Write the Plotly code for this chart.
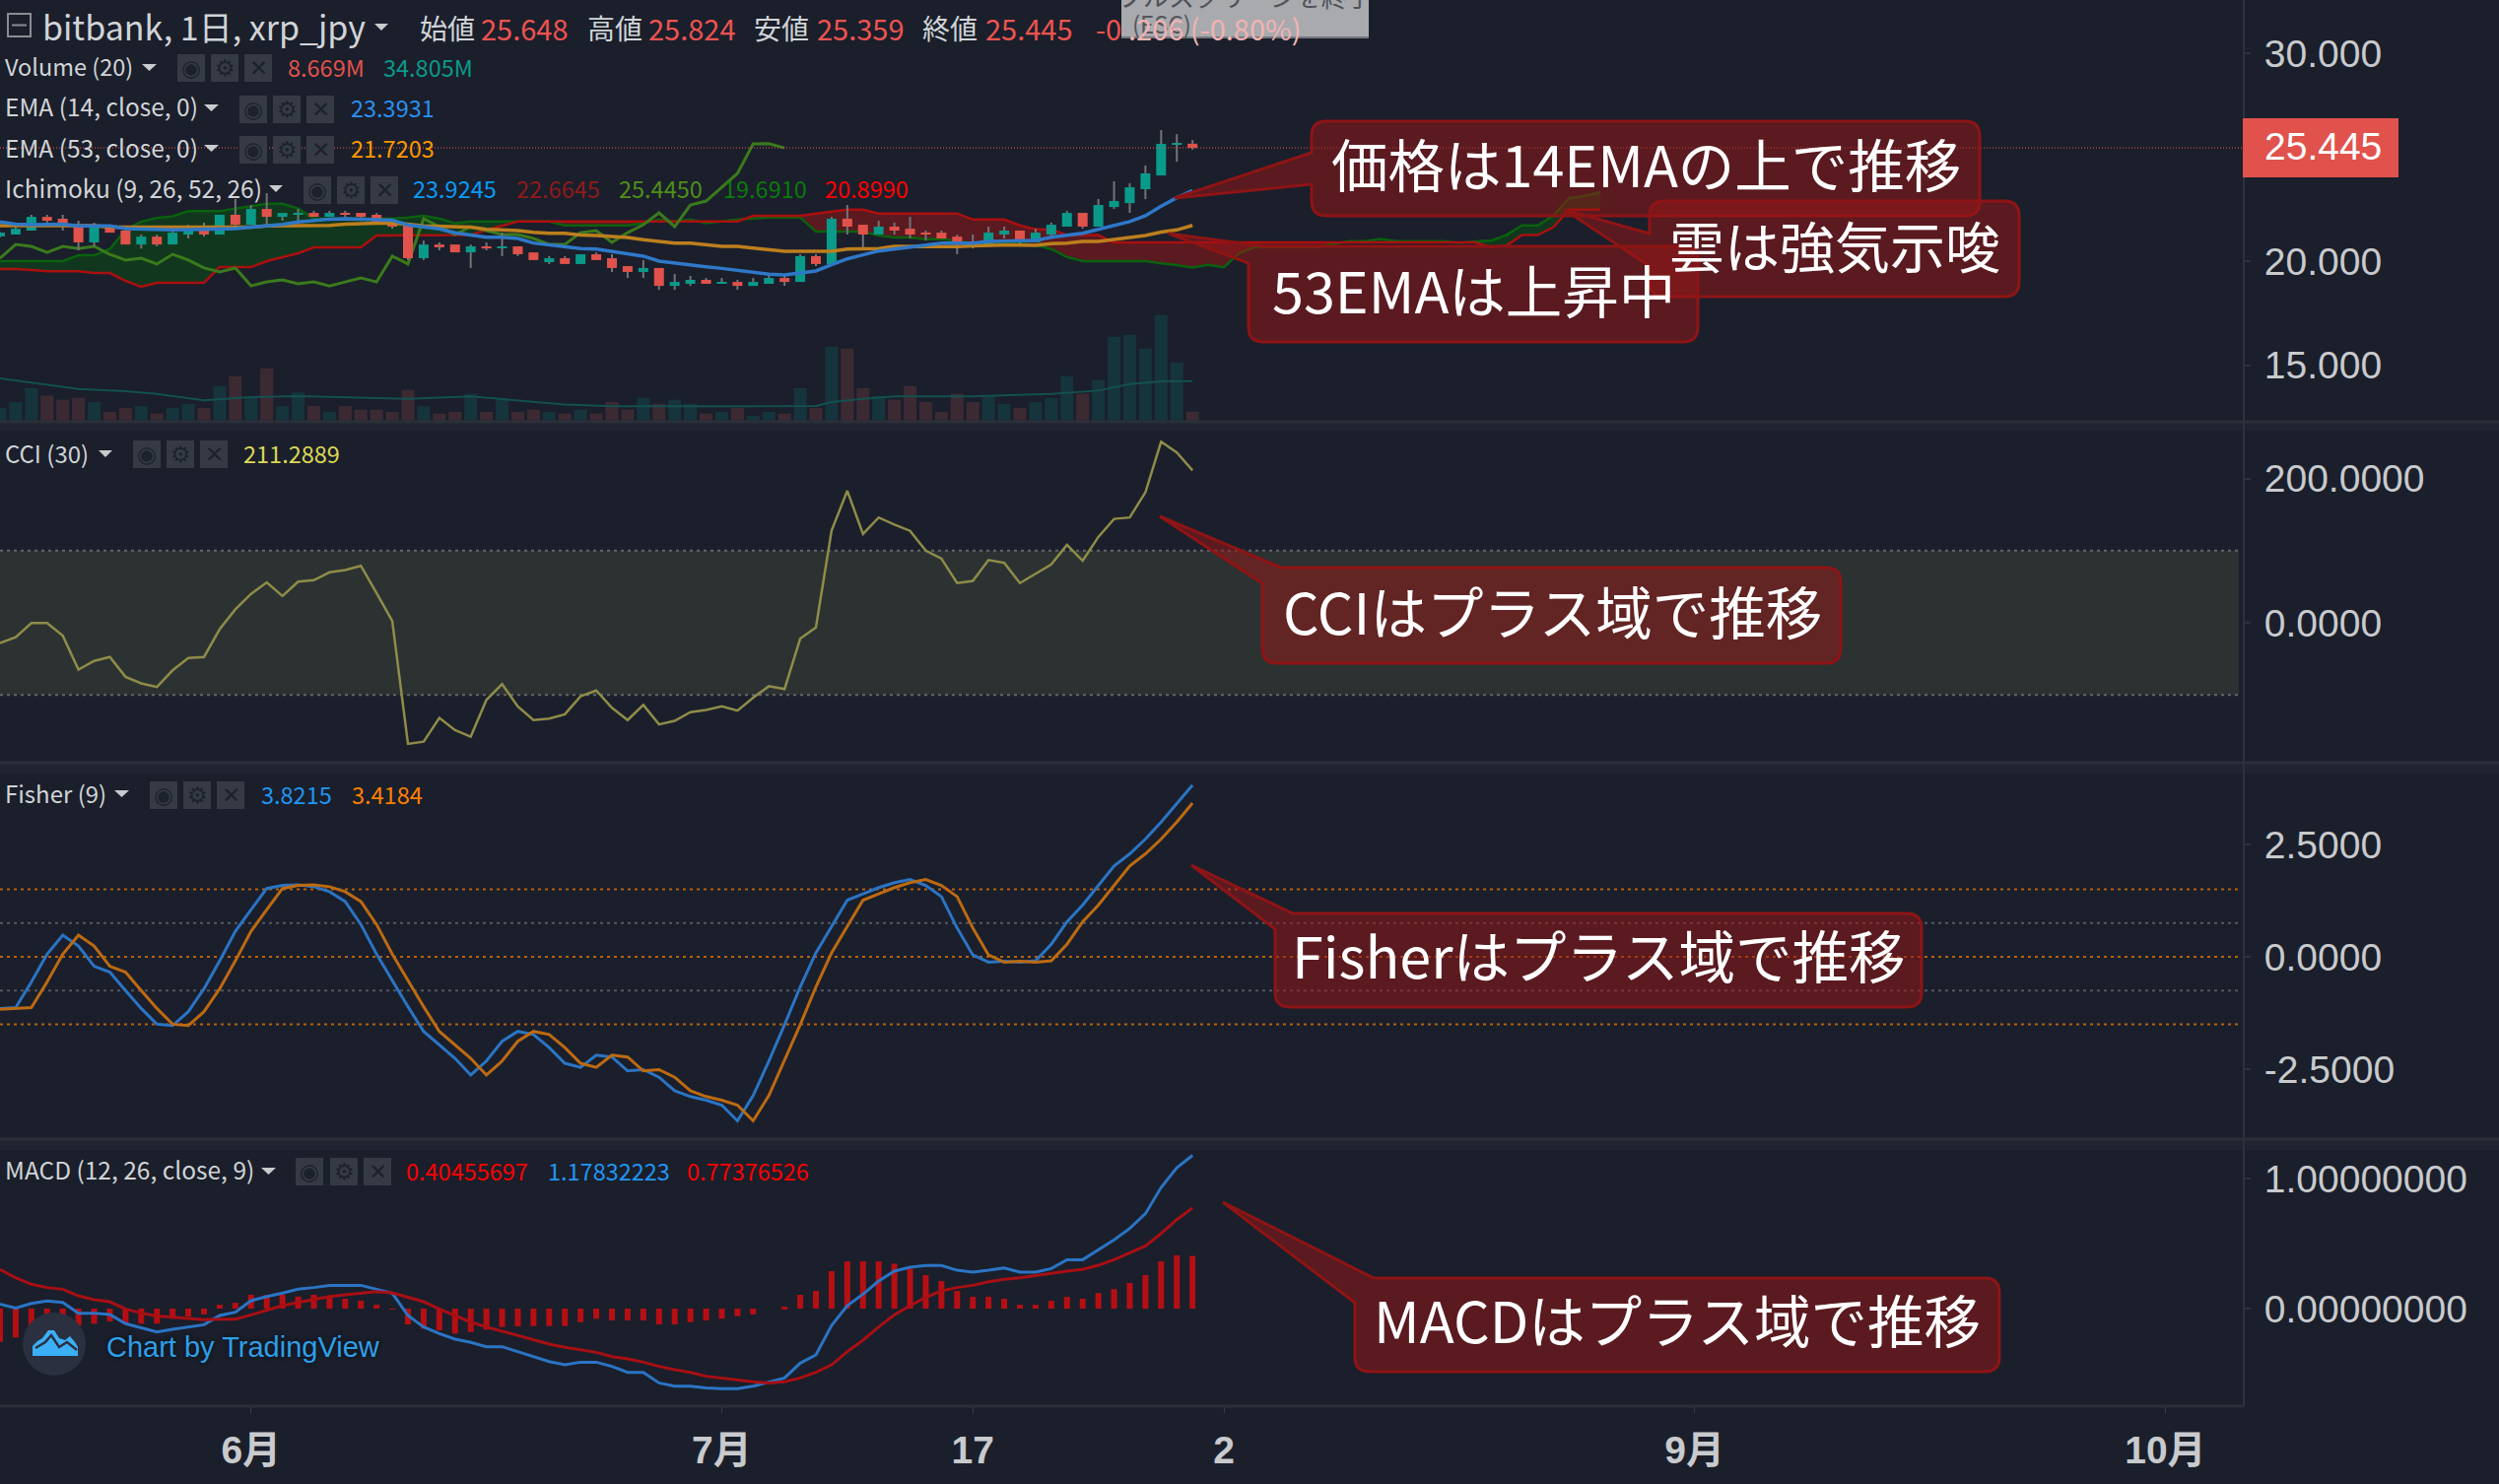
import pandas as pd
import plotly.graph_objects as go

# ---------- data ----------
start_date = "2020-05-16"
view_end = "2020-10-06"
tick_dates = ["2020-06-01", "2020-07-01", "2020-07-17", "2020-08-02", "2020-09-01", "2020-10-01"]
tick_labels = ["6月", "7月", "17", "2", "9月", "10月"]

open_ = [21.19,21.28,21.47,22.13,22.04,21.75,20.90,21.66,21.47,20.80,21.18,20.80,21.28,21.56,21.28,22.23,21.75,22.51,22.13,22.24,
         22.32,22.13,22.32,22.32,22.23,21.85,21.75,20.14,20.80,20.80,20.42,20.71,20.63,20.71,20.42,19.95,20.14,19.86,20.33,20.14,
         19.76,19.48,19.67,18.81,18.91,19.10,18.91,19.00,18.81,18.91,19.19,19.00,20.24,19.86,22.04,21.75,21.28,21.66,21.56,21.37,
         21.37,21.18,20.90,20.80,21.28,21.47,20.90,21.28,21.66,22.32,21.66,22.60,22.79,23.46,24.12,25.60,25.648]
high = [21.40,21.82,22.23,22.23,22.23,21.94,21.85,21.66,21.47,21.28,21.28,21.56,21.75,21.85,22.23,22.99,22.70,23.27,22.32,22.51,
        22.42,22.42,22.42,22.32,22.32,22.04,21.85,20.99,20.90,20.80,20.80,20.90,21.37,20.71,20.42,20.24,20.24,20.33,20.42,20.33,
        19.76,20.05,19.67,19.38,19.29,19.19,19.19,19.10,19.19,19.38,19.29,20.33,20.33,22.13,22.70,21.75,21.94,21.85,22.13,21.47,
        21.47,21.28,21.28,21.66,21.66,21.47,21.56,21.85,22.42,22.32,22.99,23.84,23.74,24.60,26.30,26.11,25.824]
low = [21.15,21.28,21.47,21.69,21.47,20.52,20.71,21.37,20.80,20.60,20.71,20.80,21.09,21.18,21.28,21.66,21.75,21.75,21.94,21.94,
       22.13,22.13,21.94,21.94,21.75,21.56,20.05,20.05,20.52,20.42,19.67,20.52,20.24,20.24,20.05,19.86,19.86,19.86,20.05,19.48,
       19.19,19.19,18.62,18.62,18.81,18.91,18.91,18.62,18.81,18.91,18.81,19.00,19.76,19.86,21.28,20.61,21.28,21.28,21.09,20.99,
       21.09,20.33,20.61,20.80,21.09,20.80,20.90,21.09,21.66,21.56,21.66,22.51,22.32,22.98,24.12,24.78,25.359]
close = [21.37,21.56,22.13,21.94,21.66,20.90,21.66,21.37,20.80,21.18,20.80,21.37,21.56,21.28,22.23,21.75,22.51,22.13,22.32,22.32,
         22.13,22.32,22.23,22.13,21.75,21.66,20.14,20.80,20.71,20.42,20.71,20.61,20.71,20.33,20.05,20.14,19.86,20.33,20.05,19.67,
         19.48,19.67,18.81,19.00,19.10,18.91,19.00,18.81,19.00,19.19,19.00,20.24,19.86,22.04,21.66,21.28,21.66,21.47,21.28,21.28,
         21.09,20.80,20.80,21.37,21.47,20.90,21.37,21.75,22.32,21.66,22.70,22.89,23.55,24.22,25.64,25.648,25.445]
volume_m = [11.8,16.8,28.6,22.4,18.8,20.4,16.8,8.4,11.8,13.4,7.0,11.8,15.4,11.8,30.5,38.9,20.4,45.7,13.4,25.2,
            13.4,8.4,13.4,10.4,10.4,8.4,27.2,13.4,7.0,8.4,23.8,8.4,20.4,8.4,10.4,8.4,7.0,10.4,7.0,16.8,
            10.4,20.4,15.4,18.8,15.4,7.0,8.4,11.8,5.0,8.4,7.0,28.6,11.8,64.1,62.5,28.6,22.1,18.8,30.5,16.8,
            8.4,23.8,16.8,22.1,15.4,11.8,16.8,20.4,38.9,23.8,35.6,72.5,74.2,62.5,91.0,50.7,8.669]
volume_ma_days = [0,3,5,8,10,13,16,19,22,26,30,34,36,39,44,49,52,53,55,57,62,67,70,72,74,76]
volume_ma = [37,31.7,28,26,23.8,18.2,21,21.8,21,19.6,21.6,16.8,14.8,13.2,13.2,13.2,13.4,16.8,19.6,21.6,21.6,23.8,26.6,32.2,34.5,34.8]
ema14 = [21.89,21.78,21.75,21.78,21.78,21.69,21.69,21.69,21.56,21.53,21.50,21.50,21.52,21.53,21.56,21.56,21.64,21.70,21.77,21.88,
         21.97,22.02,22.04,22.02,22.00,21.97,21.74,21.63,21.55,21.36,21.26,21.15,21.15,21.09,20.87,20.77,20.68,20.60,20.58,20.47,
         20.32,20.24,20.00,19.90,19.83,19.73,19.65,19.57,19.48,19.37,19.34,19.42,19.53,19.83,20.11,20.30,20.49,20.58,20.68,20.77,
         20.87,20.87,20.87,20.95,20.95,20.95,20.99,21.15,21.25,21.34,21.53,21.72,21.90,22.18,22.64,23.05,23.39]
ema53 = [21.71,21.71,21.71,21.71,21.71,21.71,21.71,21.63,21.63,21.63,21.63,21.63,21.63,21.63,21.63,21.63,21.63,21.69,21.69,21.69,
         21.69,21.72,21.78,21.82,21.82,21.82,21.78,21.69,21.66,21.63,21.63,21.53,21.50,21.47,21.39,21.34,21.34,21.26,21.23,21.18,
         21.14,21.03,20.95,20.87,20.87,20.79,20.71,20.71,20.63,20.55,20.47,20.47,20.47,20.47,20.58,20.58,20.61,20.71,20.71,20.68,
         20.68,20.70,20.74,20.77,20.77,20.77,20.76,20.84,20.87,20.95,20.95,21.04,21.14,21.23,21.40,21.50,21.72]
lagging_span = [20.14,20.80,20.71,20.42,20.71,20.61,20.71,20.33,20.05,20.14,19.86,20.33,20.05,19.67,19.48,19.67,18.81,19.00,19.10,18.91,
                19.00,18.81,19.00,19.19,19.00,20.24,19.86,22.04,21.66,21.28,21.66,21.47,21.28,21.28,21.09,20.80,20.80,21.37,21.47,20.90,
                21.37,21.75,22.32,21.66,22.70,22.89,23.55,24.22,25.64,25.648,25.445]
span_a = [20.0,20.0,20.0,20.0,20.0,20.28,20.28,20.58,21.5,21.90,22.08,22.16,22.40,22.40,22.40,22.53,22.64,22.76,22.76,22.53,
          22.05,22.05,22.05,22.05,22.05,22.05,22.10,22.18,22.05,21.82,21.91,21.91,21.91,21.91,21.91,21.91,21.72,21.72,21.72,21.72,
          21.72,21.82,22.0,21.91,22.0,21.82,21.91,22.0,22.05,22.10,22.10,22.10,21.42,21.42,21.42,21.42,21.23,21.14,21.14,21.06,
          21.06,20.96,20.87,20.87,20.87,20.87,20.77,20.58,20.2,20.0,20.0,20.0,20.0,20.0,19.89,19.81,19.69,19.82,19.71,20.39,
          20.68,20.68,20.68,20.68,20.68,20.82,20.96,20.96,21.06,20.96,20.96,20.96,20.96,20.88,20.95,20.98,21.25,21.72,21.72,22.19,
          23.03,23.14,23.31]
span_b = [19.62,19.62,19.57,19.51,19.51,19.51,19.43,19.43,19.05,18.77,18.96,18.96,18.96,18.96,19.71,19.71,19.71,20.0,20.19,20.38,
          20.66,20.66,20.66,20.66,21.23,21.23,21.23,21.23,21.23,21.23,21.26,21.5,21.69,21.91,21.91,21.91,21.91,21.91,21.91,21.91,
          21.91,21.91,21.91,21.91,21.91,21.91,21.91,21.91,22.18,22.18,22.18,22.18,22.29,22.39,22.48,22.48,22.29,22.29,22.29,22.29,
          22.29,22.29,22.0,22.0,22.0,21.72,21.53,21.53,21.25,21.25,21.25,20.9,20.9,20.9,20.9,20.9,20.9,20.9,20.9,20.9,
          20.9,20.9,20.9,20.9,20.9,20.9,20.9,20.9,20.9,20.9,20.9,20.9,20.9,20.9,20.9,20.68,20.74,21.25,21.25,21.63,
          22.48,22.48,22.48]
cci = [-28,-20,-0.5,-0.5,-18,-65,-53,-47.5,-75,-84,-89,-66,-49,-47.5,-9,18.6,40,56,37,57,
       59,70,73,79,41,2.6,-168,-165,-132,-149,-158,-107,-85,-116,-135,-133,-127,-102,-94,-118,
       -135,-114,-141,-136,-124,-121,-116,-122,-104,-88,-92,-22,-6.5,128,183,123,146,136,127.5,100,
       89,55,58,87,83,55,68,81,108,86,119,144,146,181,251,236,211.29]
fisher = [-1.15,-1.13,-0.56,0.06,0.48,0.24,-0.21,-0.34,-0.75,-1.15,-1.50,-1.53,-1.22,-0.71,-0.09,0.57,1.05,1.52,1.59,1.60,
          1.56,1.45,1.23,0.72,0.06,-0.53,-1.11,-1.66,-1.95,-2.26,-2.63,-2.32,-1.88,-1.66,-1.73,-2.02,-2.37,-2.46,-2.19,-2.23,
          -2.54,-2.51,-2.68,-2.98,-3.11,-3.19,-3.30,-3.65,-3.09,-2.32,-1.51,-0.67,0.09,0.68,1.26,1.40,1.54,1.65,1.72,1.59,
          1.34,0.64,0.04,-0.12,-0.10,-0.12,-0.09,0.28,0.78,1.15,1.59,2.02,2.29,2.62,3.00,3.42,3.82]
fisher_trigger = [-1.17,-1.15,-1.13,-0.56,0.06,0.48,0.24,-0.21,-0.34,-0.75,-1.15,-1.50,-1.53,-1.22,-0.71,-0.09,0.57,1.05,1.52,1.59,
                  1.60,1.56,1.45,1.23,0.72,0.06,-0.53,-1.11,-1.66,-1.95,-2.26,-2.63,-2.32,-1.88,-1.66,-1.73,-2.02,-2.37,-2.46,-2.19,
                  -2.23,-2.54,-2.51,-2.68,-2.98,-3.11,-3.19,-3.30,-3.65,-3.09,-2.32,-1.51,-0.67,0.09,0.68,1.26,1.40,1.54,1.65,1.72,
                  1.59,1.34,0.64,0.04,-0.12,-0.10,-0.12,-0.09,0.28,0.78,1.15,1.59,2.02,2.29,2.62,3.00,3.42]
macd = [.035,.005,.04,.058,.048,-.035,-.035,-.045,-.116,-.146,-.179,-.159,-.141,-.124,-.053,-.028,.061,.093,.119,.149,
        .162,.179,.179,.179,.149,.119,-.053,-.141,-.192,-.235,-.26,-.293,-.293,-.331,-.369,-.407,-.432,-.412,-.412,-.444,
        -.49,-.49,-.571,-.596,-.596,-.609,-.616,-.616,-.596,-.563,-.533,-.419,-.356,-.129,.023,.111,.212,.288,.318,.331,
        .331,.295,.28,.295,.313,.28,.28,.308,.376,.376,.452,.528,.616,.73,.932,1.083,1.178]
macd_signal = [.301,.237,.187,.162,.149,.098,.068,.053,-.003,-.035,-.056,-.066,-.081,-.086,-.081,-.081,-.048,-.01,.023,.048,
               .073,.093,.106,.119,.131,.121,.086,.053,-.003,-.053,-.104,-.141,-.174,-.212,-.242,-.273,-.298,-.318,-.336,-.369,
               -.386,-.412,-.444,-.47,-.49,-.52,-.533,-.551,-.563,-.571,-.563,-.533,-.49,-.432,-.331,-.242,-.141,-.048,.023,.086,
               .136,.162,.179,.207,.225,.237,.255,.27,.288,.301,.333,.376,.427,.482,.578,.684,.774]
macd_hist = [-.255,-.222,-.167,-.104,-.078,-.131,-.116,-.098,-.116,-.116,-.116,-.078,-.061,-.045,.03,.045,.106,.106,.106,.093,
             .106,.086,.076,.061,.03,-.005,-.121,-.154,-.167,-.192,-.179,-.162,-.141,-.136,-.134,-.134,-.134,-.104,-.078,-.091,
             -.091,-.091,-.121,-.121,-.104,-.091,-.078,-.058,-.045,0,.015,.106,.136,.288,.364,.364,.364,.346,.308,.258,
             .212,.136,.091,.091,.076,.03,.03,.06,.09,.076,.12,.15,.197,.258,.364,.41,.405]

last_price = 25.445

# axis tick values and their labels (the chart writes negatives with a plain hyphen)
price_ticks = [15, 20, 30]
price_tick_labels = ["15.000", "20.000", "30.000"]
cci_ticks = [0, 200]
cci_tick_labels = ["0.0000", "200.0000"]
fisher_ticks = [-2.5, 0, 2.5]
fisher_tick_labels = ["-2.5000", "0.0000", "2.5000"]
macd_ticks = [0, 1]
macd_tick_labels = ["0.00000000", "1.00000000"]

# ---------- layout constants ----------
W, H = 2536, 1506
PX_R, PX_B = 2277, 1427
BG = "#1a1f2b"
SANS = "Noto Sans CJK JP, Noto Sans, sans-serif"
AXF = "Liberation Sans, Noto Sans CJK JP, sans-serif"
day_ms = 86400000

def fx(x):
    return x / PX_R

def fy(y):
    return 1 - y / PX_B

dates = pd.date_range(start_date, periods=110, freq="D")
x = list(dates[:len(close)])
x_cloud = list(dates[:len(span_a)])
x_lag = list(dates[:len(lagging_span)])
x_vma = [dates[i] for i in volume_ma_days]

UP, DOWN = "#0a9a8a", "#e0524b"
body_color = [UP if c >= o else DOWN for o, c in zip(open_, close)]
vol_color = ["#16343c" if c >= o else "#3c2a33" for o, c in zip(open_, close)]
body_base = [min(o, c) for o, c in zip(open_, close)]
body_size = [abs(c - o) for o, c in zip(open_, close)]

wx, wy = [], []
for d, o, h, l, c in zip(x, open_, high, low, close):
    wx += [d, d, None, d, d, None]
    wy += [h, max(o, c), None, min(o, c), l, None]

fig = go.Figure()

def line(xs, ys, color, width, axis):
    fig.add_trace(go.Scatter(x=xs, y=ys, mode="lines", yaxis=axis,
                             line=dict(color=color, width=width), hoverinfo="skip"))

# volume
fig.add_trace(go.Bar(x=x, y=volume_m, yaxis="y5", marker=dict(color=vol_color, line_width=0),
                     width=13 / 15.92 * day_ms, hoverinfo="skip"))
line(x_vma, volume_ma, "#14504f", 2, "y5")

# ichimoku cloud
upper = [max(a, b) for a, b in zip(span_a, span_b)]
fig.add_trace(go.Scatter(x=x_cloud, y=span_b, mode="lines", line=dict(width=0), hoverinfo="skip"))
fig.add_trace(go.Scatter(x=x_cloud, y=upper, mode="lines", line=dict(width=0), fill="tonexty",
                         fillcolor="rgba(0,112,4,0.31)", hoverinfo="skip"))
fig.add_trace(go.Scatter(x=x_cloud, y=span_a, mode="lines", line=dict(width=0), hoverinfo="skip"))
fig.add_trace(go.Scatter(x=x_cloud, y=upper, mode="lines", line=dict(width=0), fill="tonexty",
                         fillcolor="rgba(154,21,21,0.50)", hoverinfo="skip"))
line(x_cloud, span_a, "#0b610f", 2.5, "y")
line(x_cloud, span_b, "#ab0f10", 2.5, "y")
line(x_lag, lagging_span, "#3b7a1c", 3, "y")

# candles + EMAs on an overlay so they stay above the cloud
fig.add_trace(go.Bar(x=x, y=body_size, base=body_base, yaxis="y6",
                     marker=dict(color=body_color, line_width=0),
                     width=10 / 15.92 * day_ms, hoverinfo="skip"))
fig.add_trace(go.Scatter(x=wx, y=wy, mode="lines", yaxis="y6",
                         line=dict(color="#737478", width=2), hoverinfo="skip"))
line(x, ema53, "#bd7f1e", 3.5, "y6")
line(x, ema14, "#2f78c8", 3.5, "y6")

# CCI
line(x, cci, "#8f8c49", 2.5, "y2")
# Fisher
line(x, fisher, "#2b74c4", 3, "y3")
line(x, fisher_trigger, "#bd6a12", 3, "y3")
# MACD
fig.add_trace(go.Bar(x=x, y=macd_hist, yaxis="y4", marker=dict(color="#b50f14", line_width=0),
                     width=6 / 15.92 * day_ms, hoverinfo="skip"))
line(x, macd, "#2b74c4", 3, "y4")
line(x, macd_signal, "#a80f14", 3, "y4")

# ---------- shapes and text ----------
shapes, notes = [], []

def rect(x0, y0, x1, y1, fill, border=None, bw=0, layer="above"):
    shapes.append(dict(type="rect", xref="paper", yref="paper", x0=fx(x0), x1=fx(x1), y0=fy(y0), y1=fy(y1),
                       fillcolor=fill, line=dict(color=border or fill, width=bw), layer=layer))

def hline_px(y, color, width, x1=W):
    shapes.append(dict(type="line", xref="paper", yref="paper", x0=0, x1=fx(x1), y0=fy(y), y1=fy(y),
                       line=dict(color=color, width=width), layer="above"))

def level(y, yref, color, dash="3px,4px", width=2):
    shapes.append(dict(type="line", xref="paper", yref=yref, x0=0, x1=fx(2272), y0=y, y1=y,
                       line=dict(color=color, width=width, dash=dash), layer="below"))

def text(s, px, py, size, color, anchor="left", family=SANS, weight=None, shadow=None):
    font = dict(family=family, size=size, color=color)
    if weight:
        font["weight"] = weight
    if shadow:
        font["shadow"] = shadow
    notes.append(dict(text=s, x=fx(px), y=fy(py), xref="paper", yref="paper", showarrow=False,
                      xanchor=anchor, yanchor="middle", font=font, borderpad=0, borderwidth=0))

def caret(x0, x1, y0, y1, color="#c9cbcf"):
    path = f"M {fx(x0)} {fy(y0)} L {fx(x1)} {fy(y0)} L {fx((x0 + x1) / 2)} {fy(y1)} Z"
    shapes.append(dict(type="path", xref="paper", yref="paper", path=path, fillcolor=color, line_width=0))

def icons(xs, y0, y1):
    for xl, ch in zip(xs, ["◉", "⚙", "✕"]):
        rect(xl, y0, xl + 28, y1, "#363a45")
        text(ch, xl + 14, (y0 + y1) / 2, 23, "#1c212c", "center", "DejaVu Sans")

def callout(x0, y0, x1, y1, tip, pre, post, r=15):
    """Rounded box; the tail leaves the outline at `pre`, reaches `tip`, returns at `post`."""
    P = lambda a, b: f"{fx(a)} {fy(b)}"
    d = f"M {P(x0 + r, y0)} "
    if pre[1] == y0 and post[1] != y0:
        d = f"M {P(pre[0], y0)} L {P(x1 - r, y0)} Q {P(x1, y0)} {P(x1, y0 + r)} L {P(x1, y1 - r)} Q {P(x1, y1)} {P(x1 - r, y1)} "
        d += f"L {P(x0 + r, y1)} Q {P(x0, y1)} {P(x0, y1 - r)} L {P(post[0], post[1])} L {P(tip[0], tip[1])} Z"
    else:
        d += f"L {P(x1 - r, y0)} Q {P(x1, y0)} {P(x1, y0 + r)} L {P(x1, y1 - r)} Q {P(x1, y1)} {P(x1 - r, y1)} "
        d += f"L {P(x0 + r, y1)} Q {P(x0, y1)} {P(x0, y1 - r)} L {P(post[0], post[1])} L {P(tip[0], tip[1])} L {P(pre[0], pre[1])} "
        d += f"L {P(x0, y0 + r)} Q {P(x0, y0)} {P(x0 + r, y0)} Z"
    shapes.append(dict(type="path", xref="paper", yref="paper", path=d, fillcolor="rgba(154,21,21,0.50)",
                       line=dict(color="#8e1415", width=3), layer="above"))

# pane separators
for y0, y1 in [(429, 437), (775, 785), (1157, 1167)]:
    rect(0, y0, W, y1, "#1f2430", layer="below")
for y in (428, 774, 1156):
    hline_px(y, "#2b2f3a", 3)
hline_px(1427, "#2b2f3a", 3, PX_R)
shapes.append(dict(type="line", xref="paper", yref="paper", x0=1, x1=1, y0=fy(0), y1=0,
                   line=dict(color="#2d313d", width=2), layer="above"))

# price line and price tag
shapes.append(dict(type="line", xref="paper", yref="y", x0=0, x1=fx(2284), y0=last_price, y1=last_price,
                   line=dict(color="rgba(224,82,75,0.55)", width=2, dash="1px,2px"), layer="above"))
rect(2276, 120, 2434, 180, "#e0524b")
text("25.445", 2298, 148, 39, "#ffffff", family=AXF)

# indicator bands
shapes.append(dict(type="rect", xref="paper", yref="y2", x0=0, x1=fx(2272), y0=-100, y1=100,
                   fillcolor="#2c3232", line_width=0, layer="below"))
level(100, "y2", "#63666b")
level(-100, "y2", "#63666b")
for v in (1.5, 0, -1.5):
    level(v, "y3", "#b5610f")
for v in (0.75, -0.75):
    level(v, "y3", "#55585f")

# top tooltip
rect(1138, -4, 1389, 39, "#a8aaae")
rect(1138, 37, 1389, 39, "#75787e")
text("フルスクリーンを終了", 1263, -4, 26, "#4f5156", "center")
text("(ESC)", 1149, 23, 24, "#54565b")

# header
shapes.append(dict(type="rect", xref="paper", yref="paper", x0=fx(8), x1=fx(31), y0=fy(14), y1=fy(37),
                   fillcolor="rgba(0,0,0,0)", line=dict(color="#8a8d92", width=2)))
shapes.append(dict(type="line", xref="paper", yref="paper", x0=fx(12), x1=fx(27), y0=fy(25.5), y1=fy(25.5),
                   line=dict(color="#8a8d92", width=2)))
text("bitbank, 1日, xrp_jpy", 43, 27, 34, "#d1d4d7")
caret(380, 394, 24, 31)
RED = "#ef5350"
for s, a, v, b in [("始値", 426, "25.648", 488), ("高値", 596, "25.824", 658),
                   ("安値", 765, "25.359", 829), ("終値", 936, "25.445", 1000)]:
    text(s, a, 28, 28, "#d1d4d7")
    text(v, b, 28, 29, RED)
text("-0", 1112, 28, 29, RED)
text(".206 (-0.80%)", 1145, 28, 29, "#f2b3b2")

# indicator rows
TXT = "#d1d4d7"
text("Volume (20)", 5, 67, 23.5, TXT)
caret(144, 159, 65, 72)
icons([180, 214, 248], 55, 83)
text("8.669M", 292, 68, 23.5, "#e0524b")
text("34.805M", 389, 68, 23.5, "#0a9a8a")

text("EMA (14, close, 0)", 5, 108, 24.5, TXT)
caret(207, 222, 106, 113)
icons([243, 277, 311], 97, 125)
text("23.3931", 356, 109, 23.5, "#2d8ff0")

text("EMA (53, close, 0)", 5, 149, 24.5, TXT)
caret(207, 222, 147, 154)
icons([243, 277, 311], 138, 166)
text("21.7203", 356, 150, 23.5, "#ff9800")

text("Ichimoku (9, 26, 52, 26)", 5, 190, 24.5, TXT)
caret(273, 287, 188, 195)
icons([308, 342, 376], 179, 207)
for v, xp, c in [("23.9245", 419, "#0b9af5"), ("22.6645", 524, "#8e1a1a"), ("25.4450", 628, "#4e8e1a"),
                 ("19.6910", 734, "#0b7a0b"), ("20.8990", 837, "#ff0000")]:
    text(v, xp, 191, 23.5, c)

text("CCI (30)", 5, 459, 24, TXT)
caret(100, 114, 457, 464)
icons([135, 169, 203], 447, 475)
text("211.2889", 247, 460, 23.5, "#dcd655")

text("Fisher (9)", 5, 804, 24, TXT)
caret(116, 131, 802, 809)
icons([152, 186, 220], 793, 821)
text("3.8215", 265, 806, 23.5, "#2196f3")
text("3.4184", 357, 806, 23.5, "#ff7f00")

text("MACD (12, 26, close, 9)", 5, 1186, 24.5, TXT)
caret(265, 280, 1185, 1192)
icons([300, 335, 369], 1175, 1203)
text("0.40455697", 412, 1188, 23.5, "#ff0000")
text("1.17832223", 556, 1188, 23.5, "#2196f3")
text("0.77376526", 697, 1188, 23.5, "#ff0000")

# watermark
shapes.append(dict(type="circle", xref="paper", yref="paper", x0=fx(23), x1=fx(87), y0=fy(1332), y1=fy(1396),
                   fillcolor="#2a303f", line_width=0))
logo = [(33, 1376), (33, 1366), (38, 1361), (43, 1358), (49, 1350), (55, 1350), (60, 1358), (66, 1360),
        (71, 1356), (76, 1362), (79, 1367), (79, 1376)]
shapes.append(dict(type="path", xref="paper", yref="paper",
                   path="M " + " L ".join(f"{fx(a)} {fy(b)}" for a, b in logo) + " Z",
                   fillcolor="#3bb0f7", line_width=0))
ridge = [(36, 1368), (46, 1362), (52, 1355), (60, 1367), (68, 1362), (78, 1370)]
shapes.append(dict(type="path", xref="paper", yref="paper",
                   path="M " + " L ".join(f"{fx(a)} {fy(b)}" for a, b in ridge),
                   line=dict(color="#2a303f", width=2.5)))
text("Chart by TradingView", 108, 1367, 29, "#2f9fe8", family="Liberation Sans, sans-serif",
     shadow="0 0 4px #0b0e14")

# callouts
callout(1331, 123, 2009, 219, (1192, 201), (1331, 155), (1331, 187))
callout(1674, 204, 2049, 301, (1588, 213), (1674, 237), (1674, 270))
callout(1267, 250, 1723, 347, (1186, 237), (1283, 250), (1267, 267))
callout(1281, 576, 1868, 673, (1177, 524), (1300, 576), (1281, 592))
callout(1294, 927, 1950, 1022, (1209, 878), (1312, 927), (1294, 943))
callout(1375, 1297, 2029, 1392, (1241, 1220), (1394, 1297), (1375, 1322))

WHITE = "#ffffff"
text("価格は14EMAの上で推移", 1670, 165, 57.5, WHITE, "center")
text("雲は強気示唆", 1862, 247, 56, WHITE, "center")
text("53EMAは上昇中", 1495, 293, 57.5, WHITE, "center")
text("CCIはプラス域で推移", 1575, 619, 57.5, WHITE, "center")
text("Fisherはプラス域で推移", 1622, 968, 57.5, WHITE, "center")
text("MACDはプラス域で推移", 1702, 1338, 57.5, WHITE, "center")

# ---------- axes ----------
def yaxis(top, bottom, vmin, vmax, tickvals=None, ticktext=None, **kw):
    ax = dict(domain=[fy(bottom), fy(top)], range=[vmin, vmax], side="right", anchor="x",
              showgrid=False, zeroline=False, showline=False, fixedrange=True)
    if tickvals is not None:
        ax.update(tickmode="array", tickvals=tickvals, ticktext=ticktext, ticks="outside", ticklen=6, tickwidth=2,
                  tickcolor="#2d313d", tickfont=dict(family=AXF, size=39, color="#c8cacd"), ticklabelstandoff=6)
    else:
        ax.update(showticklabels=False, ticks="")
    ax.update(kw)
    return ax

price_lo, price_hi = 12.275, 32.559
fig.update_layout(
    width=W, height=H, autosize=False, showlegend=False, barmode="overlay",
    paper_bgcolor=BG, plot_bgcolor=BG, hovermode=False,
    margin=dict(l=0, r=W - PX_R, t=0, b=H - PX_B, pad=0),
    xaxis=dict(type="date", range=[start_date, view_end], domain=[0, 1], anchor="y4", showgrid=False,
               zeroline=False, showline=False, fixedrange=True, tickmode="array", tickvals=tick_dates,
               ticktext=tick_labels, ticks="outside", ticklen=6, tickwidth=1, tickcolor="#3a3e4a",
               tickfont=dict(family=AXF, size=39, color="#c8cacd", weight=700), ticklabelstandoff=4,
               rangeslider=dict(visible=False)),
    yaxis=yaxis(0, 428, price_lo, price_hi, price_ticks, price_tick_labels),
    yaxis2=yaxis(432, 774, -194.1, 273.3, cci_ticks, cci_tick_labels),
    yaxis3=yaxis(778, 1156, -4.057, 4.232, fisher_ticks, fisher_tick_labels),
    yaxis4=yaxis(1160, 1427, -0.75, 1.273, macd_ticks, macd_tick_labels),
    yaxis5=yaxis(0, 428, 0, 360, overlaying="y"),
    yaxis6=yaxis(0, 428, price_lo, price_hi, overlaying="y"),
    shapes=shapes, annotations=notes,
)

fig.write_html("out.html", config=dict(displayModeBar=False),
               post_script="document.body.style.margin='0';document.body.style.overflow='hidden';")
